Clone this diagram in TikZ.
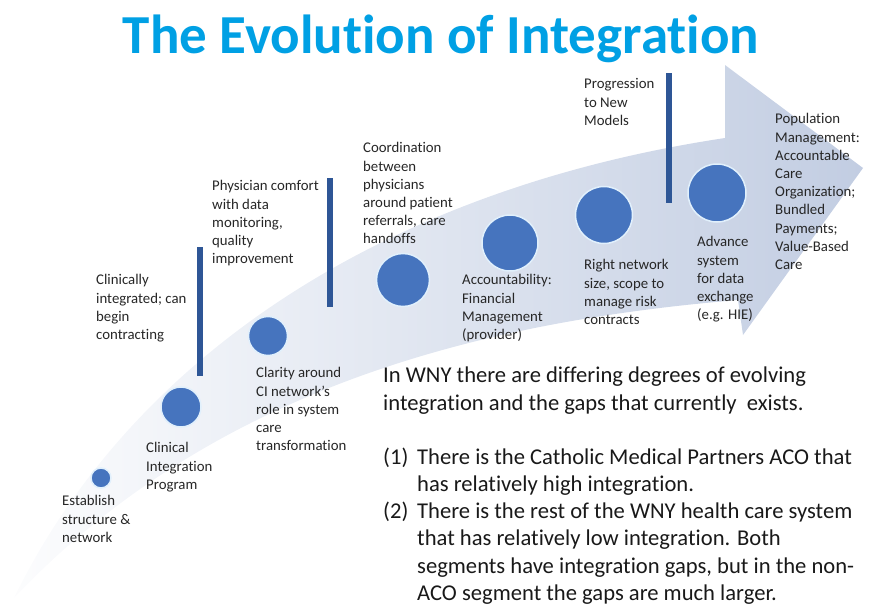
\documentclass[tikz,border=0pt]{standalone}
\usepackage{fontspec}
\setmainfont[Ligatures=NoCommon]{Carlito}
\definecolor{titleblue}{RGB}{0,160,228}
\definecolor{dotblue}{RGB}{70,116,190}
\definecolor{barblue}{RGB}{46,86,150}
\definecolor{arrowgrey}{RGB}{194,205,226}
\definecolor{rimblue}{RGB}{225,240,252}
\begin{document}
\begin{tikzpicture}[x=1pt,y=-1pt,
    stage/.style={circle,fill=dotblue,draw=rimblue,line width=1.5pt,inner sep=0pt},
    lbl/.style={anchor=north west,align=left,inner sep=0pt,text=black!85,
        font=\fontsize{14.8}{18.2}\selectfont},
    body/.style={anchor=north west,align=left,inner sep=0pt,text=black!90,
        font=\fontsize{22.6}{27.2}\selectfont}]
    \useasboundingbox (0,0) rectangle (876,605);

    % the big curved arrow
    \shade[left color=arrowgrey!5,middle color=arrowgrey!85,right color=arrowgrey]
        (14,598) .. controls (130,360) and (380,190) .. (725,138)
        -- (725,65) -- (863,168) -- (743,335) -- (738,300)
        .. controls (500,320) and (220,380) .. (14,598) -- cycle;

    % title
    \node[font=\fontsize{55}{60}\bfseries\selectfont,text=titleblue] (title) at (441,39) {The Evolution of Integration};

    % stages along the arrow
    \foreach \x/\y/\r/\name in {101/478/10/s1,181/407/20/s2,268/336/19.5/s3,
        403/280/26.5/s4,510/243/28/s5,604/215/28.5/s6,717/193/29/s7}
    {
        \node[stage,minimum size=2*\r] (\name) at (\x,\y) {};
    }

    % dividing bars
    \foreach \x/\ya/\yb in {200/247/376,330/178/307,669/73/203}
    {
        \fill[barblue] (\x-3,\ya) rectangle (\x+3,\yb);
    }

    % stage texts
    \node[lbl] (establish) at (62,495.5) {Establish\\structure \&\\network};
    \node[lbl] (clinprog) at (146,442.5) {Clinical\\Integration\\Program};
    \node[lbl] (clinint) at (96,274.5) {Clinically\\integrated; can\\begin\\contracting};
    \node[lbl] (clarity) at (256,367.5) {Clarity around\\CI network’s\\role in system\\care\\transformation};
    \node[lbl] (comfort) at (212,180.5) {Physician comfort\\with data\\monitoring,\\quality\\improvement};
    \node[lbl] (coord) at (363,142.5) {Coordination\\between\\physicians\\around patient\\referrals, care\\handoffs};
    \node[lbl] (account) at (462,274.5) {Accountability:\\Financial\\Management\\(provider)};
    \node[lbl] (rightnet) at (584,259.5) {Right network\\size, scope to\\manage risk\\contracts};
    \node[lbl] (progress) at (584,78.5) {Progression\\to New\\Models};
    \node[lbl] (advance) at (697,236.5) {Advance\\system\\for data\\exchange\\(e.g. HIE)};
    \node[lbl] (population) at (775,113.5) {Population\\Management:\\Accountable\\Care\\Organization;\\Bundled\\Payments;\\Value-Based\\Care};

    % WNY note
    \node[body] (note) at (383,367) {In WNY there are differing degrees of evolving\\
        integration and the gaps that currently\ \ exists.\\[27pt]
        \makebox[34pt][l]{(1)}There is the Catholic Medical Partners ACO that\\
        \hspace*{34pt}has relatively high integration.\\
        \makebox[34pt][l]{(2)}There is the rest of the WNY health care system\\
        \hspace*{34pt}that has relatively low integration. Both\\
        \hspace*{34pt}segments have integration gaps, but in the non-\\
        \hspace*{34pt}ACO segment the gaps are much larger.};
\end{tikzpicture}
\end{document}
